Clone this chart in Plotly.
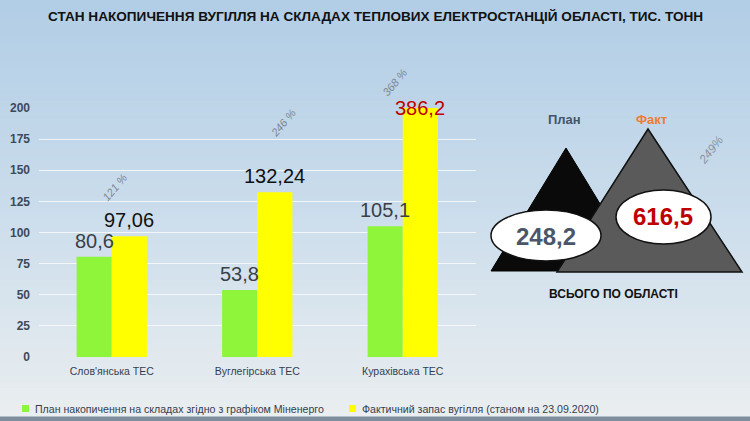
import plotly.graph_objects as go

W, H = 750, 421

# ---- data ----
categories = ["Слов'янська ТЕС", "Вуглегірська ТЕС", "Курахівська ТЕС"]
plan_values = [80.6, 53.8, 105.1]
fact_values = [97.06, 132.24, 386.2]
plan_labels = ["80,6", "53,8", "105,1"]
fact_labels = ["97,06", "132,24", "386,2"]
pct_labels = ["121 %", "246 %", "368 %"]
y_ticks = [0, 25, 50, 75, 100, 125, 150, 175, 200]
series_names = ["План накопичення на складах згідно з графіком Міненерго",
                "Фактичний запас вугілля (станом на 23.09.2020)"]
total_plan = "248,2"
total_fact = "616,5"
total_pct = "249%"
title_text = "СТАН НАКОПИЧЕННЯ ВУГІЛЛЯ НА СКЛАДАХ ТЕПЛОВИХ ЕЛЕКТРОСТАНЦІЙ ОБЛАСТІ, ТИС. ТОНН"

SANS = "Liberation Sans, Arial, sans-serif"
GREEN = "#8ef53a"
YELLOW = "#ffff00"
YMAX = 200


def px(x):
    return x / W


def py(y):
    return 1 - y / H


fig = go.Figure()
fig.add_trace(go.Bar(x=categories, y=plan_values, name=series_names[0],
                     marker=dict(color=GREEN, line=dict(width=0)), cliponaxis=True))
fig.add_trace(go.Bar(x=categories, y=fact_values, name=series_names[1],
                     marker=dict(color=YELLOW, line=dict(width=0)), cliponaxis=True))

shapes = []
# background gradient
top = (178, 206, 230)
mid = (203, 221, 236)
bot = (234, 238, 240)
N = 70
for i in range(N):
    t = i / (N - 1)
    if t < 0.5:
        a, b, u = top, mid, t / 0.5
    else:
        a, b, u = mid, bot, (t - 0.5) / 0.5
    c = tuple(int(a[k] + (b[k] - a[k]) * u) for k in range(3))
    y0 = i * 417 / N
    y1 = (i + 1) * 417 / N + 0.5
    shapes.append(dict(type="rect", xref="paper", yref="paper", x0=0, x1=1,
                       y0=py(y1), y1=py(y0), fillcolor="rgb(%d,%d,%d)" % c,
                       line=dict(width=0), layer="below"))
# bottom dark strip
shapes.append(dict(type="rect", xref="paper", yref="paper", x0=0, x1=1,
                   y0=0, y1=py(416.5), fillcolor="#7f8e9c", line=dict(width=0), layer="below"))


def tri(ax, ay, lx, rx, by):
    return "M %f,%f L %f,%f L %f,%f Z" % (px(ax), py(ay), px(lx), py(by), px(rx), py(by))


shapes.append(dict(type="path", xref="paper", yref="paper",
                   path=tri(566, 148, 491, 641, 271), fillcolor="#0a0a0a",
                   line=dict(color="#000000", width=1)))
shapes.append(dict(type="path", xref="paper", yref="paper",
                   path=tri(648, 129, 557, 742, 272), fillcolor="#5a5a5a",
                   line=dict(color="#111111", width=1.5)))
shapes.append(dict(type="circle", xref="paper", yref="paper",
                   x0=px(491), x1=px(601), y0=py(261), y1=py(210),
                   fillcolor="#ffffff", line=dict(color="#111111", width=1.5)))
shapes.append(dict(type="circle", xref="paper", yref="paper",
                   x0=px(616), x1=px(711), y0=py(244), y1=py(190),
                   fillcolor="#ffffff", line=dict(color="#111111", width=1.5)))
shapes.append(dict(type="rect", xref="paper", yref="paper",
                   x0=px(22), x1=px(29), y0=py(412), y1=py(405),
                   fillcolor=GREEN, line=dict(width=0)))
shapes.append(dict(type="rect", xref="paper", yref="paper",
                   x0=px(349), x1=px(356), y0=py(412), y1=py(405),
                   fillcolor=YELLOW, line=dict(width=0)))

ann = []


def note(text, x, y, size, color, xanchor="center", angle=0, family=SANS):
    ann.append(dict(text=text, xref="paper", yref="paper", x=px(x), y=py(y),
                    showarrow=False, xanchor=xanchor, yanchor="middle", textangle=angle,
                    font=dict(family=family, size=size, color=color)))


note("<b>" + title_text + "</b>", 375, 16, 13.6, "#111111")

BAR_OFF = 17.5
for i, cat in enumerate(categories):
    ann.append(dict(text=plan_labels[i], xref="x", yref="y", x=cat,
                    y=min(plan_values[i], YMAX), xshift=-BAR_OFF, yshift=16,
                    showarrow=False, xanchor="center", yanchor="middle",
                    font=dict(family=SANS, size=20, color="#3a3f48")))
    red = fact_values[i] > YMAX
    ann.append(dict(text=fact_labels[i], xref="x", yref="y", x=cat,
                    y=min(fact_values[i], YMAX), xshift=BAR_OFF, yshift=(0 if red else 16),
                    showarrow=False, xanchor="center", yanchor="middle",
                    font=dict(family=SANS, size=20, color=("#c00000" if red else "#111111"))))

pct_pos = [(115, 187), (283, 123), (395, 82)]
for t, (x, y) in zip(pct_labels, pct_pos):
    note("<i>" + t + "</i>", x, y, 11, "#7d8894", angle=-50)

note("<b>План</b>", 564, 119, 13, "#44546a")
note("<b>Факт</b>", 651, 119, 13, "#ed7d31")
note("<i>" + total_pct + "</i>", 711, 150, 12, "#8a96a3", angle=-52)
note("<b>" + total_plan + "</b>", 546, 236, 24, "#4b5668")
note("<b>" + total_fact + "</b>", 663, 216, 24, "#c00000")
note("<b>ВСЬОГО ПО ОБЛАСТІ</b>", 613, 294, 12, "#111111")

note(series_names[0], 33, 408.5, 10.6, "#333f4f", xanchor="left")
note(series_names[1], 360, 408.5, 10.6, "#333f4f", xanchor="left")

fig.update_layout(
    width=W, height=H,
    margin=dict(l=0, r=0, t=0, b=0),
    paper_bgcolor="#cfdfec",
    plot_bgcolor="rgba(0,0,0,0)",
    barmode="group", bargap=0.517, bargroupgap=0,
    showlegend=False,
    shapes=shapes, annotations=ann,
    xaxis=dict(domain=[px(39), px(475.5)], showgrid=False, zeroline=False, showline=False,
               tickfont=dict(family=SANS, size=10.5, color="#333f4f"), ticks="",
               ticklabelstandoff=6, automargin=False),
    yaxis=dict(domain=[py(357), py(108)], range=[0, YMAX], tickvals=y_ticks,
               showgrid=True, gridcolor="rgba(255,255,255,0.75)", gridwidth=1,
               zeroline=False, showline=False, ticks="", ticklabelstandoff=8,
               tickfont=dict(family=SANS, size=12, color="#3d4a5a", weight="bold"),
               automargin=False),
)

fig.write_html("out.html", config={"displayModeBar": False},
               post_script="document.body.style.margin='0';document.body.style.overflow='hidden';")
